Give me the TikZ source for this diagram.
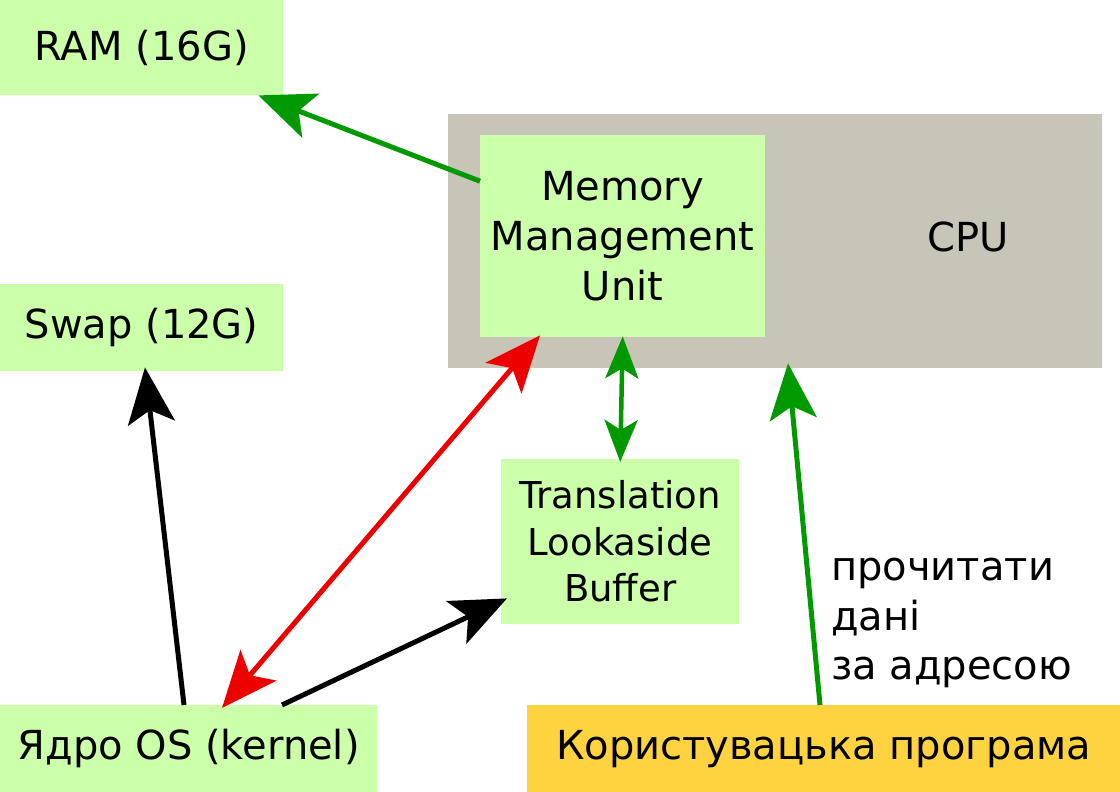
\documentclass[tikz,border=0pt]{standalone}
\usepackage{fontspec}
\setmainfont{DejaVu Sans}
\usetikzlibrary{arrows.meta}
\definecolor{boxgreen}{HTML}{CCFFAA}
\definecolor{cpugray}{HTML}{C8C4B7}
\definecolor{useryellow}{HTML}{FFD340}
\definecolor{arrgreen}{HTML}{009900}
\definecolor{arrred}{HTML}{EE0000}
\begin{document}
\begin{tikzpicture}[x=1pt,y=-1pt,
  box/.style={fill=boxgreen,draw=none,anchor=north west,inner sep=0pt,align=center,
    font=\fontsize{40}{50}\selectfont},
  conn/.style={line width=5pt,-{Stealth[length=56pt,width=47pt,inset=13pt]}},
  dconn/.style={line width=5pt,{Stealth[length=56pt,width=47pt,inset=13pt]}-{Stealth[length=56pt,width=47pt,inset=13pt]}},
  sconn/.style={line width=4.5pt,{Stealth[length=42pt,width=33pt,inset=10pt]}-{Stealth[length=42pt,width=33pt,inset=10pt]}}
]
\useasboundingbox (0,0) rectangle (1120,792);
\fill[white] (0,0) rectangle (1120,792);
\node[box,minimum width=283pt,minimum height=95pt] (ram) at (0,0) {RAM (16G)};
\node[box,fill=cpugray,minimum width=654pt,minimum height=254pt] (cpu) at (448,114) {};
\node[font=\fontsize{40}{50}\selectfont,inner sep=0pt] (cpulabel) at (968,237) {CPU};
\node[box,minimum width=285pt,minimum height=202pt] (mmu) at (480,135) {Memory\\Management\\Unit};
\node[box,minimum width=283pt,minimum height=87pt] (swap) at (0,284) {Swap (12G)};
\node[box,minimum width=238pt,minimum height=165pt,font=\fontsize{37}{46.5}\selectfont] (tlb) at (501,459) {Translation\\Lookaside\\Buffer};
\node[box,minimum width=377pt,minimum height=87pt] (kernel) at (0,705) {Ядро OS (kernel)};
\node[box,fill=useryellow,minimum width=593pt,minimum height=87pt] (user) at (527,705) {Користувацька програма};
\node[anchor=north west,inner sep=0pt,align=left,font=\fontsize{40}{49.5}\selectfont] (read) at (831,558) {прочитати\\дані\\за адресою};
\draw[conn,arrgreen] ([yshift=55pt]mmu.west) -- ([xshift=-25pt]ram.south east);
\draw[sconn,arrgreen] ([yshift=1pt]mmu.south) -- ([yshift=-3pt]tlb.north);
\draw[dconn,arrred] ([xshift=60pt,yshift=2pt]mmu.south west) -- ([xshift=222pt,yshift=-3pt]kernel.north west);
\draw[conn,black] ([xshift=184pt]kernel.north west) -- ([xshift=145pt,yshift=4pt]swap.south west);
\draw[conn,black] ([xshift=282pt]kernel.north west) -- ([xshift=6pt,yshift=26pt]tlb.south west);
\draw[conn,arrgreen] ([xshift=820pt]kernel.north west) -- ([xshift=788pt,yshift=5pt]cpu.south west -| kernel.north west);
\end{tikzpicture}
\end{document}
